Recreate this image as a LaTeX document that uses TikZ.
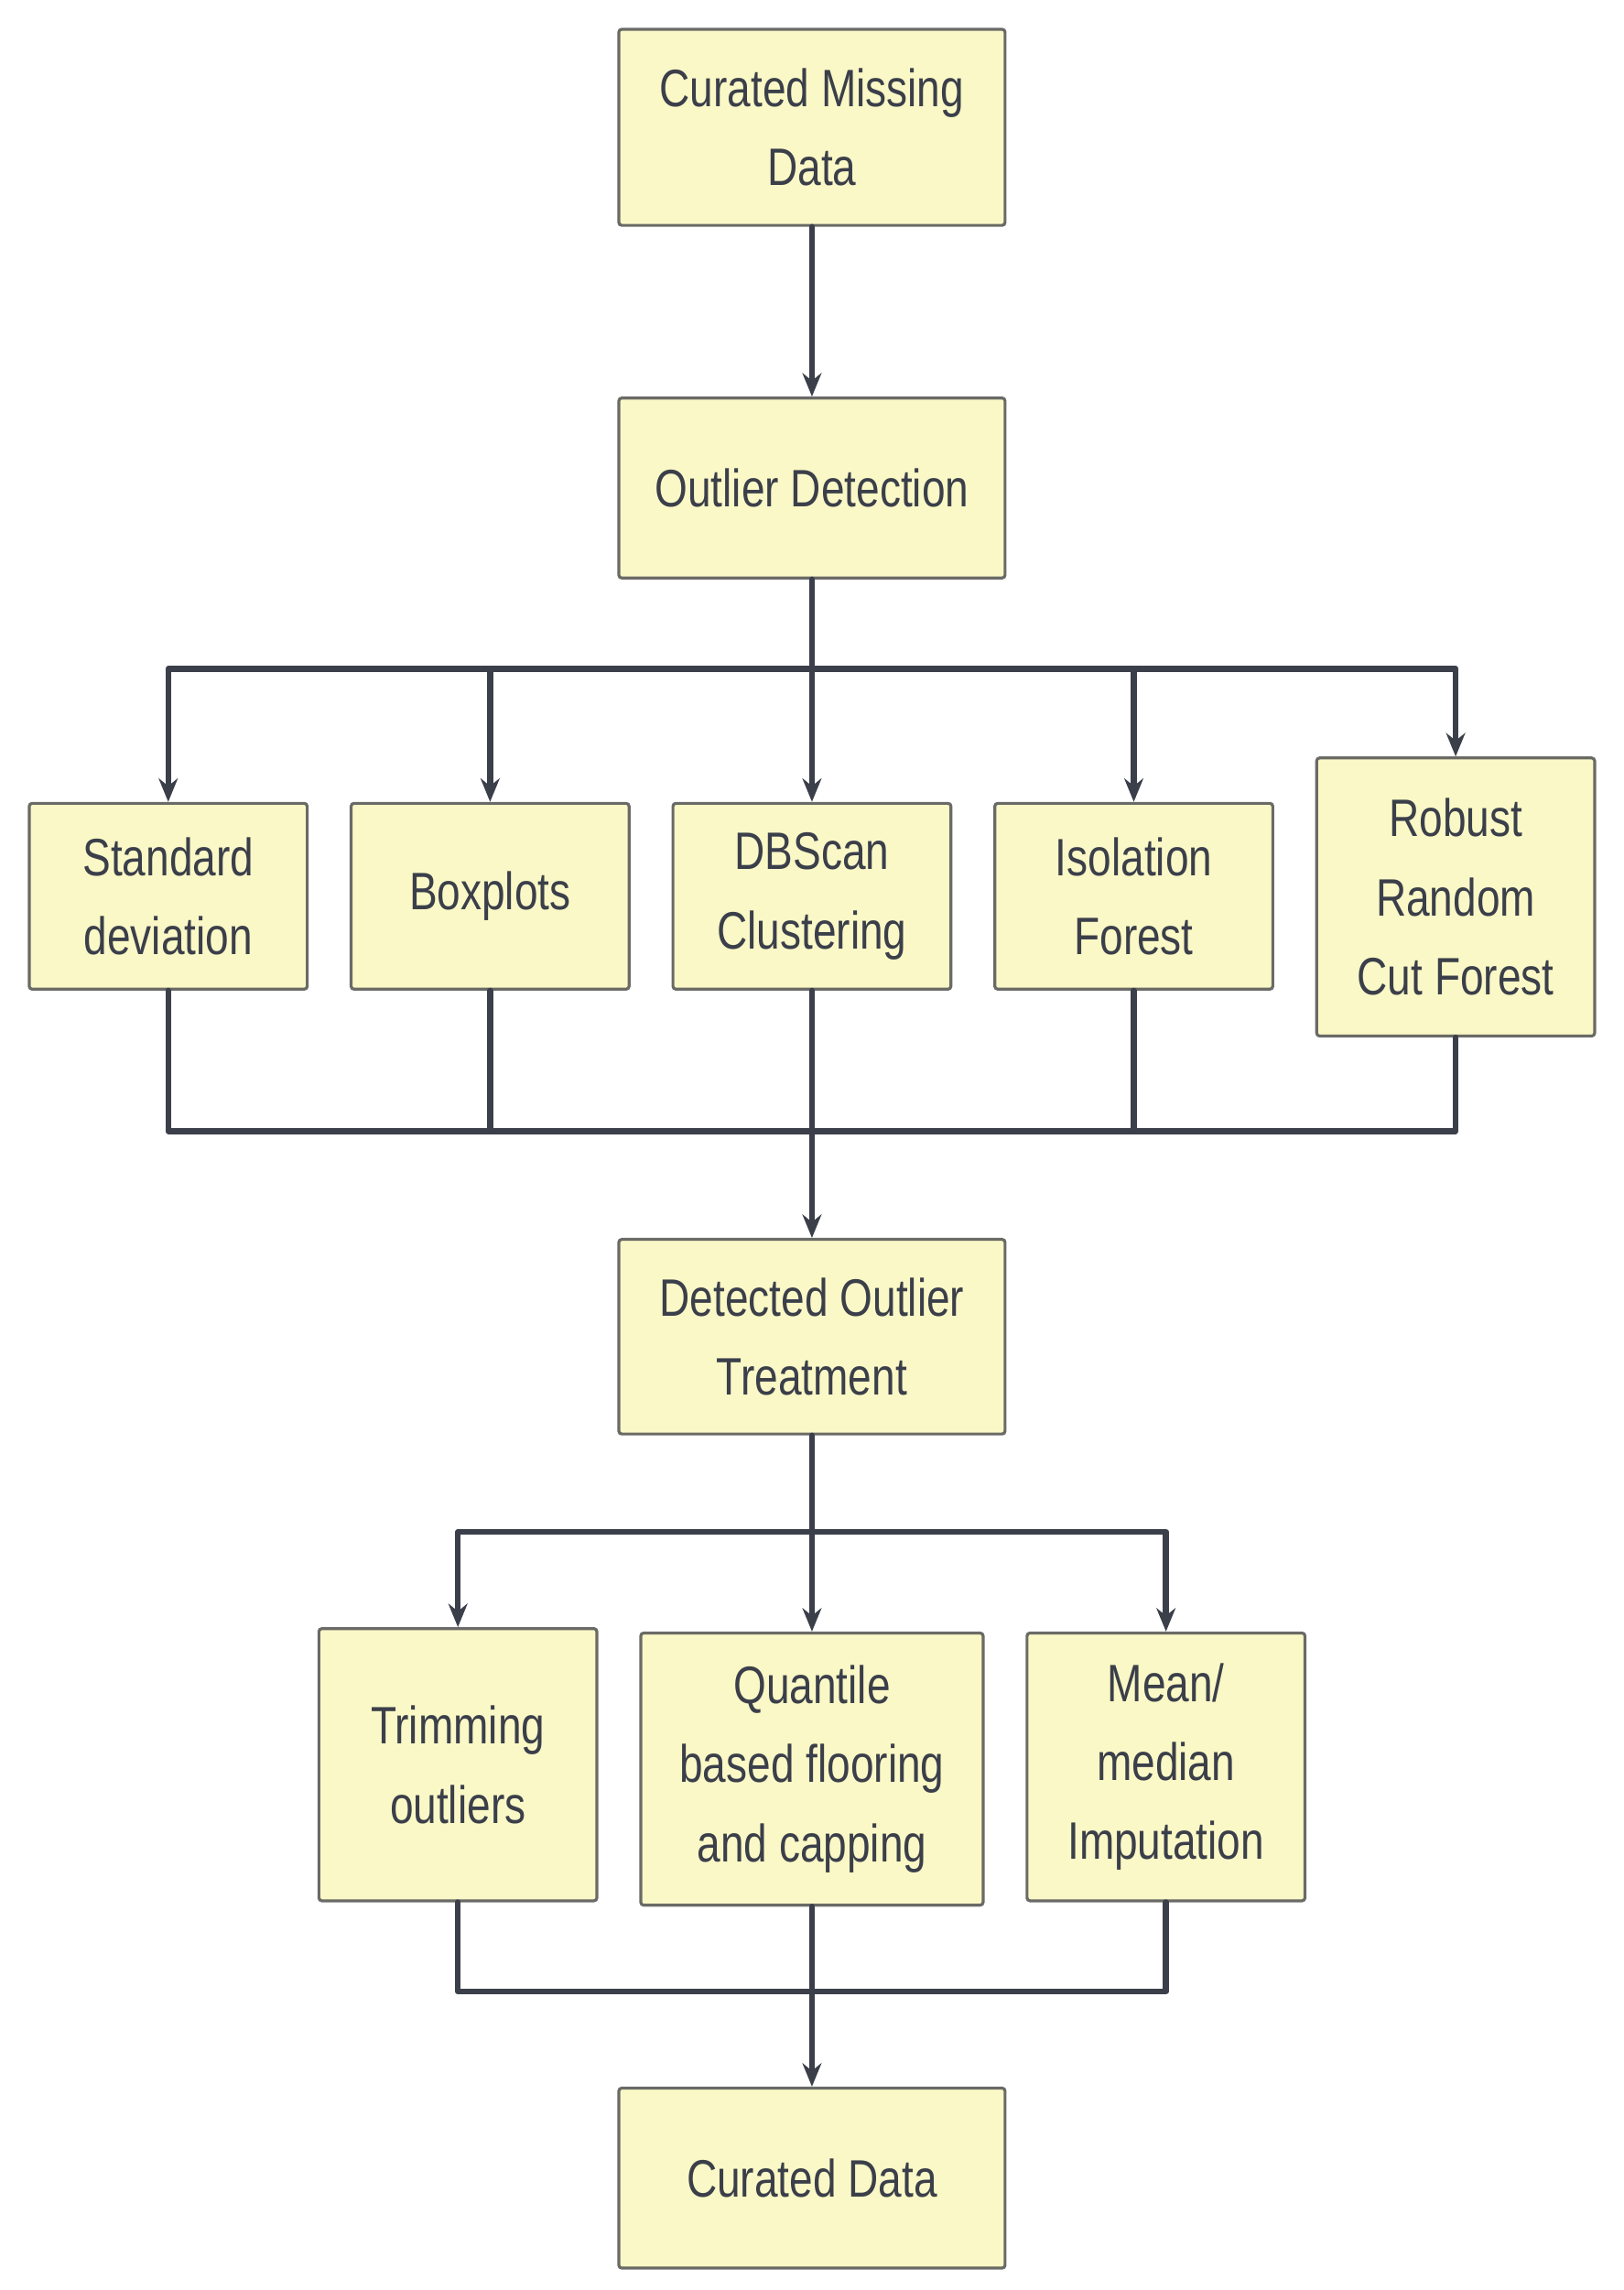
\documentclass[tikz,border=0pt]{standalone}
\usepackage{fontspec}
\setmainfont{Liberation Sans}[FakeStretch=0.8]
\usetikzlibrary{arrows.meta}
\definecolor{boxfill}{HTML}{FAF8C6}
\definecolor{boxline}{HTML}{6A6A66}
\definecolor{wire}{HTML}{3B3F4A}
\begin{document}
\begin{tikzpicture}[x=1pt,y=-1pt,
  box/.style={draw=boxline,fill=boxfill,line width=2pt,rounded corners=2pt,align=center,
    font=\fontsize{36}{54}\selectfont,text=wire,inner sep=0pt},
  wire/.style={draw=wire,line width=4pt,line cap=round,line join=round},
  arr/.style={wire,-{Stealth[length=16pt,width=13pt]}}]
\useasboundingbox (0,0) rectangle (1110,1565);
\def\bx#1#2#3#4#5#6{\node[box,minimum width=#4-#3,minimum height=#6-#5] (#1) at ({(#3+#4)/2},{(#5+#6)/2}) {#2};}
\bx{cmd}{Curated Missing\\Data}{423}{687}{20}{154}
\bx{od}{Outlier Detection}{423}{687}{272}{395}
\bx{sd}{Standard\\deviation}{20}{210}{549}{676}
\bx{bp}{Boxplots}{240}{430}{549}{676}
\bx{db}{DBScan\\Clustering}{460}{650}{549}{676}
\bx{if}{Isolation\\Forest}{680}{870}{549}{676}
\bx{rr}{Robust\\Random\\Cut Forest}{900}{1090}{518}{708}
\bx{dot}{Detected Outlier\\Treatment}{423}{687}{847}{980}
\bx{tr}{Trimming\\outliers}{218}{408}{1113}{1299}
\bx{qb}{Quantile\\based flooring\\and capping}{438}{672}{1116}{1302}
\bx{mm}{Mean/\\median\\Imputation}{702}{892}{1116}{1299}
\bx{cd}{Curated Data}{423}{687}{1427}{1550}
\coordinate (b1) at (555,457);
\coordinate (b2) at (555,773);
\coordinate (b3) at (555,1047);
\coordinate (b4) at (555,1361);
\draw[arr] (cmd) -- (od);
\draw[wire] (od) -- (b1);
\foreach \n in {sd,bp,db,if,rr}{\draw[arr] (b1) -| (\n.north);}
\foreach \n in {sd,bp,db,if,rr}{\draw[wire] (\n.south) |- (b2);}
\draw[arr] (b2) -- (dot);
\draw[wire] (dot) -- (b3);
\foreach \n in {tr,qb,mm}{\draw[arr] (b3) -| (\n.north);}
\foreach \n in {tr,qb,mm}{\draw[wire] (\n.south) |- (b4);}
\draw[arr] (b4) -- (cd);
\end{tikzpicture}
\end{document}
